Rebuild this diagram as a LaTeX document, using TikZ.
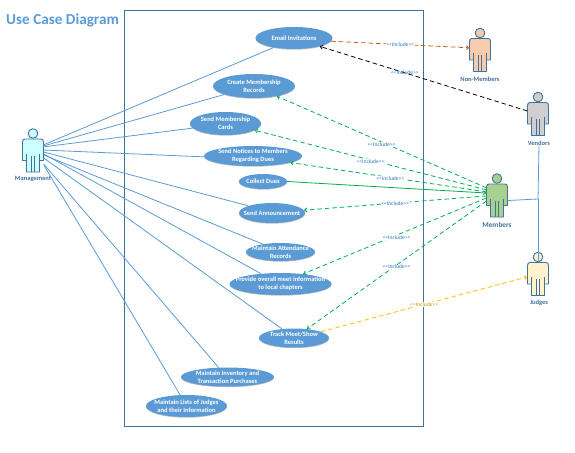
\documentclass[tikz,border=0pt]{standalone}
\usepackage{fontspec}
\setmainfont{Carlito}
\usetikzlibrary{shapes.geometric,arrows.meta,shadows}
\definecolor{ublue}{HTML}{5B9BD5}
\definecolor{frameblue}{HTML}{41719C}
\definecolor{incgreen}{HTML}{00B050}
\definecolor{incorange}{HTML}{C55A11}
\definecolor{incyellow}{HTML}{FFC000}
\definecolor{lbl}{HTML}{2E75B6}
\definecolor{fmgmt}{HTML}{CCFFFF}
\definecolor{fnon}{HTML}{F8CBAD}
\definecolor{fven}{HTML}{D0CECE}
\definecolor{fmem}{HTML}{A9D18E}
\definecolor{fjud}{HTML}{FFF2CC}
\newcommand{\inc}{<\kern0pt<Include>\kern0pt>}
\tikzset{
  usecase/.style={ellipse,fill=ublue,inner sep=0pt,
    drop shadow={shadow xshift=0pt,shadow yshift=-0.7pt,opacity=.35,fill=black!70}},
  usetext/.style={text=white,font=\bfseries\fontsize{6.5}{8.2}\selectfont,align=center,inner sep=0pt},
  assoc/.style={draw=ublue,line width=0.8pt},
  incl/.style={dash pattern=on 4.5pt off 3pt,line width=0.8pt,-{Straight Barb[length=2.4pt,width=4pt]}},
  greenincl/.style={incl,draw=incgreen},
  inclabel/.style={font=\fontsize{5.6}{6}\selectfont,text=lbl,fill=white,inner sep=0.5pt},
  actorbody/.style={draw=frameblue,line width=0.9pt,line join=round},
  actorbox/.style={rectangle,minimum width=21pt,minimum height=33pt,inner sep=0pt,draw=none},
  actorlabel/.style={font=\bfseries\fontsize{6.5}{8}\selectfont,text=frameblue,inner sep=0pt},
}
% name, x center, y body center, fill
\newcommand{\umlactor}[4]{%
  \begin{scope}[shift={(#2,#3)}]
    \draw[actorbody,fill=#4] (0,-22) circle (4.8);
    \draw[actorbody,fill=#4] (-10.5,-13.5) .. controls (-10.5,-15.6) and (-9.5,-16.5) .. (-8,-16.5) -- (8,-16.5)
      .. controls (9.5,-16.5) and (10.5,-15.6) .. (10.5,-13.5) -- (10.5,5) -- (6.5,5) -- (6.5,16.5) -- (-6.5,16.5) -- (-6.5,5) -- (-10.5,5) -- cycle;
    \draw[actorbody,line width=0.7pt] (-6.5,-2) -- (-6.5,5) (6.5,-2) -- (6.5,5) (-1.2,0) -- (-1.2,16.5) (1.2,0) -- (1.2,16.5);
  \end{scope}
  \node[actorbox] (#1) at (#2,#3) {};
}
% name, x, y, width, height, text
\newcommand{\ucase}[6]{%
  \node[usecase,minimum width=#4pt,minimum height=#5pt] (#1) at (#2,#3) {};
  \node[usetext] (#1t) at (#2,#3) {#6};
}
\begin{document}
\begin{tikzpicture}[x=1pt,y=-1pt]
\useasboundingbox (0,0) rectangle (575,452);
\node[font=\bfseries\fontsize{15.2}{16}\selectfont,text=ublue,anchor=west,inner sep=0pt] (title) at (6,20.5) {Use Case Diagram};
\node[draw=frameblue,line width=0.9pt,rectangle,minimum width=299pt,minimum height=416pt,inner sep=0pt] (sys) at (274,218.5) {};

\umlactor{mgmt}{33}{155.5}{fmgmt}
\umlactor{non}{480}{55}{fnon}
\umlactor{ven}{538}{119}{fven}
\umlactor{mem}{497}{200.5}{fmem}
\umlactor{jud}{538}{279}{fjud}
\node[actorlabel] (mgmtl) at (33,178.5) {Management};
\node[actorlabel] (nonl) at (480,79) {Non-Members};
\node[actorlabel] (venl) at (539,143) {Vendors};
\node[actorlabel,font=\bfseries\fontsize{7.4}{8}\selectfont] (meml) at (497,225) {Members};
\node[actorlabel] (judl) at (539,303) {Judges};

\ucase{email}{294}{38}{77}{22}{Email Invitations}
\ucase{create}{254}{86}{82}{24}{Create Membership\\Records}
\ucase{cards}{225.5}{123.5}{71}{23}{Send Membership\\Cards}
\ucase{notices}{253}{156}{98}{20}{Send Notices to Members\\Regarding Dues}
\ucase{dues}{263}{181.5}{48}{15}{Collect Dues}
\ucase{ann}{272}{213}{66}{20}{Send Announcement}
\ucase{att}{280.5}{252}{69}{18}{Maintain Attendance\\Records}
\ucase{prov}{280.5}{284}{102}{22}{Provide overall meet information\\to local chapters}
\ucase{track}{294}{338}{70}{19}{Track Meet/Show\\Results}
\ucase{inv}{227.5}{377}{93}{19}{Maintain Inventory and\\Transaction Purchases}
\ucase{lists}{186.5}{406}{81}{22}{Maintain Lists of Judges\\and their Information}

\draw[assoc] (mgmt.45) -- (email.205);
\draw[assoc] (mgmt.42) -- (create.196);
\draw[assoc] (mgmt.39) -- (cards.188);
\draw[assoc] (mgmt.27) -- (notices.181);
\draw[assoc] (mgmt.18) -- (ann.163);
\draw[assoc] (mgmt.3) -- (att.156);
\draw[assoc] (mgmt.8) -- (prov.152);
\draw[assoc] (mgmt.-13) -- (track.143);
\draw[assoc] (mgmt.-39) -- (inv.133);
\draw[assoc] (mgmt.-41) -- (lists.120);

\draw[greenincl] (mem.130) -- node[inclabel,pos=.5,yshift=-2.5pt] (l1) {\inc} (create.336);
\draw[greenincl] (mem.135) -- node[inclabel,pos=.5,yshift=-1.5pt] (l2) {\inc} (cards.347);
\draw[greenincl] (mem.141) -- node[inclabel,pos=.49,yshift=-1pt] (l3) {\inc} (notices.350);
\draw[draw=incgreen,line width=0.8pt,{Straight Barb[length=2.4pt,width=4pt]}-] (mem.145) -- (dues.0);
\draw[greenincl] (mem.157) -- node[inclabel,pos=.5] (l4) {\inc} (ann.5);
\draw[greenincl] (mem.167) -- node[inclabel,pos=.49,yshift=-2pt] (l5) {\inc} (prov.24);
\draw[greenincl] (mem.183) -- node[inclabel,pos=.5,yshift=-2pt] (l6) {\inc} (track.35);

\draw[incl,draw=incorange] (email.355) -- node[inclabel,pos=.5] (l7) {\inc} (non.146);
\draw[incl,draw=black] (ven.143) -- node[inclabel,pos=.59,fill=none] (l8) {\inc} (email.342);
\draw[incl,draw=incyellow] (track.13) -- node[inclabel,pos=.5,text=incyellow!80!black] (l9) {\inc} (jud.169);

\draw[assoc] (mem.east) -- (538,199) coordinate (tee);
\draw[assoc] (venl.south) -- (tee);
\draw[assoc] (tee) -- (jud.north);
\end{tikzpicture}
\end{document}
